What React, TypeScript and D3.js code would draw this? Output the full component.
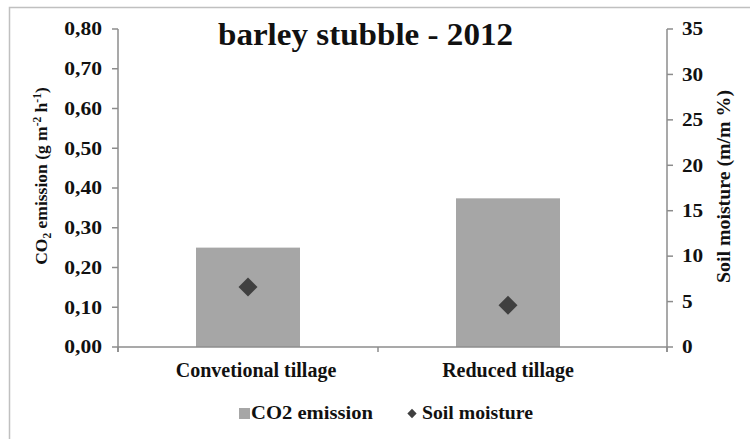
import React from "react";
import * as d3 from "d3";

const categories = ["Convetional tillage", "Reduced tillage"];
const co2Values = [0.25, 0.374];
const moistureValues = [6.6, 4.6];
const leftTicks = [0, 0.1, 0.2, 0.3, 0.4, 0.5, 0.6, 0.7, 0.8];
const rightTicks = [0, 5, 10, 15, 20, 25, 30, 35];
const title = "barley stubble - 2012";
const legendLabels = ["CO2 emission", "Soil moisture"];

const W = 750;
const H = 439;
const FONT = "Liberation Serif, Times New Roman, serif";
const AXIS = "#8c8c8c";
const BAR = "#a6a6a6";
const DOT = "#404040";
const INK = "#111";

export default function App() {
  const left = 118;
  const right = 667;
  const top = 29;
  const bottom = 347;

  const x = d3.scaleBand<string>().domain(categories).range([left, 638]).paddingInner(0).paddingOuter(0);
  const yL = d3.scaleLinear().domain([0, 0.8]).range([bottom, top]);
  const yR = d3.scaleLinear().domain([0, 35]).range([bottom, top]);
  const barW = x.bandwidth() / 2.5;
  const diamond = d3.symbol().type(d3.symbolDiamond2).size(230);
  const fmt = (v: number) => v.toFixed(2).replace(".", ",");
  const cx = (c: string) => (x(c) as number) + x.bandwidth() / 2;

  const boundaries = [left, ...categories.map((c) => (x(c) as number) + x.bandwidth()).slice(0, -1), right];

  return (
    <svg width={W} height={H} style={{ position: "absolute", left: 0, top: 0, fontFamily: FONT }}>
      <rect x={0} y={0} width={W} height={H} fill="#fff" />
      <rect x={9.5} y={7.5} width={800} height={500} fill="none" stroke="#c0c0c0" strokeWidth={1.5} />
      <text x={365.5} y={45} textAnchor="middle" fontSize={32} fontWeight="bold" fill={INK} textLength={295} lengthAdjust="spacingAndGlyphs">
        {title}
      </text>

      {/* bars */}
      {categories.map((c, i) => (
        <rect key={c} x={cx(c) - barW / 2} y={yL(co2Values[i])} width={barW} height={bottom - yL(co2Values[i])} fill={BAR} />
      ))}

      {/* left axis */}
      <line x1={left} x2={left} y1={top} y2={bottom + 5} stroke={AXIS} strokeWidth={1.5} />
      {leftTicks.map((t) => (
        <g key={t}>
          <line x1={left - 6} x2={left} y1={yL(t)} y2={yL(t)} stroke={AXIS} strokeWidth={1.5} />
          <text transform={`translate(102,${yL(t) + 6.3}) scale(1.2,1)`} textAnchor="end" fontSize={18} fontWeight="bold" fill={INK}>
            {fmt(t)}
          </text>
        </g>
      ))}

      {/* right axis */}
      <line x1={right} x2={right} y1={top} y2={bottom + 5} stroke={AXIS} strokeWidth={1.5} />
      {rightTicks.map((t) => (
        <g key={t}>
          <line x1={right} x2={right + 6} y1={yR(t)} y2={yR(t)} stroke={AXIS} strokeWidth={1.5} />
          <text transform={`translate(682,${yR(t) + 6.3}) scale(1.18,1)`} textAnchor="start" fontSize={18} fontWeight="bold" fill={INK}>
            {t}
          </text>
        </g>
      ))}

      {/* x axis */}
      <line x1={left} x2={right} y1={bottom} y2={bottom} stroke={AXIS} strokeWidth={1.5} />
      {boundaries.map((b, i) => (
        <line key={i} x1={b} x2={b} y1={bottom} y2={bottom + 5} stroke={AXIS} strokeWidth={1.5} />
      ))}
      {categories.map((c, i) => (
        <text key={c} x={cx(c) + (i === 0 ? 8 : 0)} y={377} textAnchor="middle" fontSize={20} fontWeight="bold" fill={INK}>
          {c}
        </text>
      ))}

      {/* diamonds */}
      {categories.map((c, i) => (
        <path key={c} d={diamond() as string} transform={`translate(${cx(c)},${yR(moistureValues[i])})`} fill={DOT} />
      ))}

      {/* axis titles */}
      <text transform={`translate(47,176) rotate(-90)`} textAnchor="middle" fontSize={17.5} fontWeight="bold" fill={INK}>
        CO<tspan fontSize={11.5} dy={4}>2</tspan>
        <tspan dy={-4}> emission (g m</tspan>
        <tspan fontSize={11.5} dy={-6}>-2</tspan>
        <tspan dy={6}> h</tspan>
        <tspan fontSize={11.5} dy={-6}>-1</tspan>
        <tspan dy={6}>)</tspan>
      </text>
      <text transform={`translate(730,186.5) rotate(-90)`} textAnchor="middle" fontSize={18} fontWeight="bold" fill={INK} textLength={193} lengthAdjust="spacingAndGlyphs">
        Soil moisture (m/m %)
      </text>

      {/* legend */}
      <rect x={239} y={408} width={11} height={11} fill={BAR} />
      <text x={251} y={419} fontSize={19.5} fontWeight="bold" fill={INK} textLength={122} lengthAdjust="spacingAndGlyphs">
        {legendLabels[0]}
      </text>
      <path d={d3.symbol().type(d3.symbolDiamond2).size(55)() as string} transform="translate(412,413.5)" fill={DOT} />
      <text x={422} y={419} fontSize={19.5} fontWeight="bold" fill={INK} textLength={111} lengthAdjust="spacingAndGlyphs">
        {legendLabels[1]}
      </text>
    </svg>
  );
}
